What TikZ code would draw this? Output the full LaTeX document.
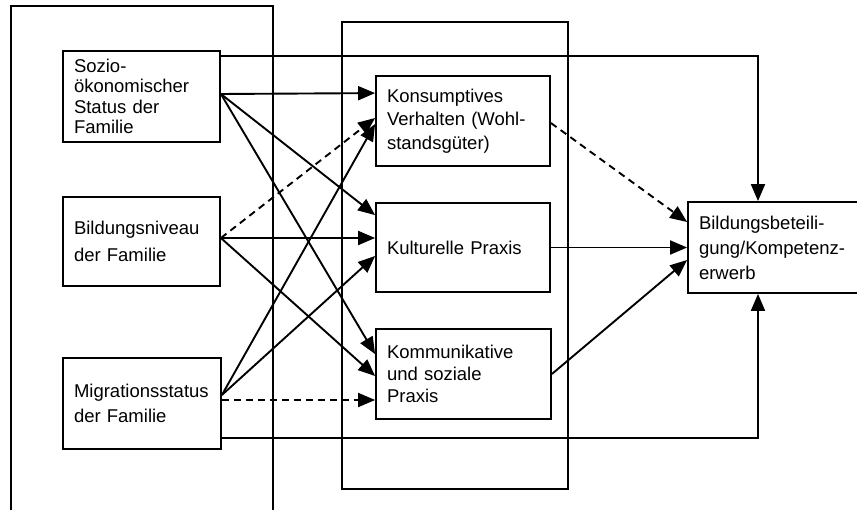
\documentclass[tikz,border=0pt]{standalone}
\usepackage{fontspec}
\setmainfont{Liberation Sans}
\usetikzlibrary{arrows.meta}
\tikzset{
  boxnode/.style={draw, line width=1.8pt, align=left, inner xsep=11pt, inner ysep=0pt,
    font=\fontsize{18.5}{22}\selectfont},
  conn/.style={line width=1.9pt, -{Triangle[length=17pt,width=14pt]}},
  dconn/.style={conn, dash pattern=on 7pt off 5pt},
  frame/.style={line width=1.7pt}
}
\begin{document}
\begin{tikzpicture}[x=1pt,y=-1pt]
\useasboundingbox (0,0) rectangle (857,510);
\fill[white] (0,0) rectangle (857,510);
\clip (0,0) rectangle (857,510);
% outer frames
\draw[frame] (11,515) -- (11,6) -- (273,6) -- (273,515);
\draw[frame] (342,22) rectangle (568,489);
% source boxes
\node[boxnode, minimum width=157pt, minimum height=91pt, text width=135pt,
  font=\fontsize{18.5}{20.5}\selectfont] (ses) at (141.5,96.5)
  {Sozio-\\ökonomischer\\Status der\\Familie};
\node[boxnode, minimum width=157pt, minimum height=89pt, text width=135pt,
  font=\fontsize{18.5}{27}\selectfont] (bil) at (141.5,241.5)
  {Bildungsniveau\\der Familie};
\node[boxnode, minimum width=158pt, minimum height=91pt, text width=136pt,
  font=\fontsize{18.5}{25}\selectfont] (mig) at (142,403.5)
  {Migrationsstatus\\der Familie};
% mediators
\node[boxnode, minimum width=174pt, minimum height=90pt, text width=152pt,
  font=\fontsize{18.5}{23.5}\selectfont] (kon) at (463,121)
  {Konsumptives\\Verhalten (Wohl-\\standsgüter)};
\node[boxnode, minimum width=174pt, minimum height=89pt, text width=152pt] (kul) at (463,247.5)
  {Kulturelle Praxis};
\node[boxnode, minimum width=175pt, minimum height=90pt, text width=153pt] (kom) at (463.5,374)
  {Kommunikative\\und soziale\\Praxis};
% target
\node[boxnode, minimum width=182pt, minimum height=91pt, text width=160pt,
  font=\fontsize{18.5}{25}\selectfont] (tgt) at (779,247.5)
  {Bildungsbeteili-\\gung/Kompetenz-\\erwerb};
% start points
\coordinate (s0) at ([yshift=2.5pt]ses.east);
\coordinate (b0) at ([yshift=3.5pt]bil.east);
\coordinate (m0) at ([yshift=8.5pt]mig.east);
\coordinate (m1) at ([yshift=3.5pt]mig.east);
% direct paths to target
\draw[conn] ([yshift=-6pt]ses.north east) -| ([xshift=-21pt]tgt.north);
\draw[conn] ([yshift=12pt]mig.south east) -| ([xshift=-21pt]tgt.south);
% SES
\draw[conn] (s0) -- ([yshift=-18pt]kon.north west);
\draw[conn] (s0) -- ([yshift=-13pt]kul.north west);
\draw[conn] (s0) -- ([yshift=-26pt]kom.north west);
% Bildungsniveau
\draw[dconn] (b0) -- ([yshift=3pt]kon.west);
\draw[conn] (b0) -- ([yshift=9.5pt]kul.west);
\draw[conn] (b0) -- ([yshift=-2pt]kom.west);
% Migration
\draw[conn] (m0) -- ([yshift=-3pt]kon.west);
\draw[conn] (m0) -- ([yshift=-8.5pt]kul.west);
\draw[dconn] (m1) -- (kom.west |- m1);
% mediators to target
\draw[dconn] ([yshift=-2pt]kon.east) -- ([yshift=25.5pt]tgt.west);
\draw[conn] (kul.east) -- (tgt.west |- kul.east);
\draw[conn] (kom.east) -- ([yshift=-12.5pt]tgt.west);
\end{tikzpicture}
\end{document}
